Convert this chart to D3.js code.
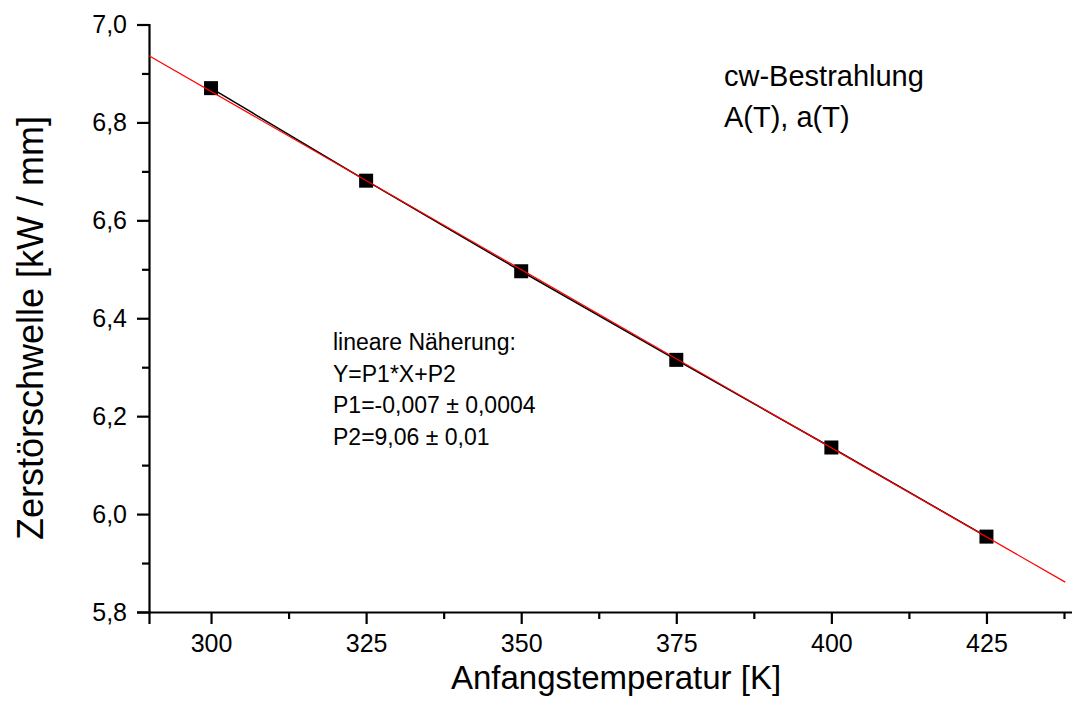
<!DOCTYPE html>
<html>
<head>
<meta charset="utf-8">
<script src="https://cdn.jsdelivr.net/npm/d3@7"></script>
<style>
  html, body { margin: 0; padding: 0; background: #fff; }
  svg { display: block; font-family: "Liberation Sans", Arial, sans-serif; }
</style>
</head>
<body>
<svg id="chart" width="1072" height="713"></svg>
<script>
// ---- data ----
const temperatures = [300, 325, 350, 375, 400, 425];
const thresholds = [6.870, 6.681, 6.496, 6.315, 6.136, 5.954];
const fitX = [290, 437.7];
const fitY = [6.936, 5.861];
const xMajorTicks = [300, 325, 350, 375, 400, 425];
const xMinorTicks = [312.5, 337.5, 362.5, 387.5, 412.5, 437.5];
const yMajorTicks = [5.8, 6.0, 6.2, 6.4, 6.6, 6.8, 7.0];
const yMinorTicks = [5.9, 6.1, 6.3, 6.5, 6.7, 6.9];
const xTitle = "Anfangstemperatur [K]";
const yTitle = "Zerstörschwelle [kW / mm]";
const legendLines = ["cw-Bestrahlung", "A(T), a(T)"];
const fitLines = ["lineare Näherung:", "Y=P1*X+P2", "P1=-0,007 ± 0,0004", "P2=9,06 ± 0,01"];

const svg = d3.select("#chart");
const x = d3.scaleLinear().domain([290, 440]).range([149, 1079.5]);
const y = d3.scaleLinear().domain([5.8, 7.0]).range([612, 24.5]);
const fmt = d => d3.format(".1f")(d).replace(".", ",");

// axes
const gx = svg.append("g").attr("transform", `translate(0,${y(5.8)})`);
gx.call(d3.axisBottom(x).tickValues(xMajorTicks).tickSize(12).tickPadding(10).tickFormat(d3.format("d")));
const gxm = gx.append("g").call(d3.axisBottom(x).tickValues(xMinorTicks).tickSize(7).tickFormat(""));
const gy = svg.append("g").attr("transform", `translate(${x(290)},0)`);
gy.call(d3.axisLeft(y).tickValues(yMajorTicks).tickSize(12).tickPadding(10).tickFormat(fmt));
const gym = gy.append("g").call(d3.axisLeft(y).tickValues(yMinorTicks).tickSize(7).tickFormat(""));
gxm.select(".domain").remove();
gym.select(".domain").remove();

svg.selectAll(".domain").attr("stroke", "#000").attr("stroke-width", 2.2);
svg.selectAll(".tick line").attr("stroke", "#000").attr("stroke-width", 2.2);
svg.selectAll(".tick text").attr("fill", "#000").attr("font-size", 25)
   .attr("font-family", "'Liberation Sans', Arial, sans-serif");

// data line
const pts = temperatures.map((t, i) => [t, thresholds[i]]);
svg.append("path").datum(pts)
  .attr("fill", "none").attr("stroke", "#000").attr("stroke-width", 1.5)
  .attr("d", d3.line().x(d => x(d[0])).y(d => y(d[1])));

// markers
svg.append("g").selectAll("rect").data(pts).join("rect")
  .attr("x", d => x(d[0]) - 7).attr("y", d => y(d[1]) - 7)
  .attr("width", 14).attr("height", 14).attr("fill", "#000");

// fit line
svg.append("path").datum(fitX.map((v, i) => [v, fitY[i]]))
  .attr("fill", "none").attr("stroke", "#ff0000").attr("stroke-width", 1.2)
  .attr("d", d3.line().x(d => x(d[0])).y(d => y(d[1])));

// titles
svg.append("text").attr("x", 616).attr("y", 689).attr("text-anchor", "middle")
  .attr("font-size", 33).attr("fill", "#000").text(xTitle);
svg.append("text").attr("transform", "translate(43,328) rotate(-90)").attr("text-anchor", "middle")
  .attr("font-size", 36).attr("fill", "#000").text(yTitle);

// legend text
svg.append("g").selectAll("text").data(legendLines).join("text")
  .attr("x", 724).attr("y", (d, i) => 86 + i * 41)
  .attr("font-size", 29).attr("fill", "#000").text(d => d);

// fit annotation
svg.append("g").selectAll("text").data(fitLines).join("text")
  .attr("x", 333).attr("y", (d, i) => 350 + i * 31.5)
  .attr("font-size", 23).attr("fill", "#000").text(d => d);
</script>
</body>
</html>
